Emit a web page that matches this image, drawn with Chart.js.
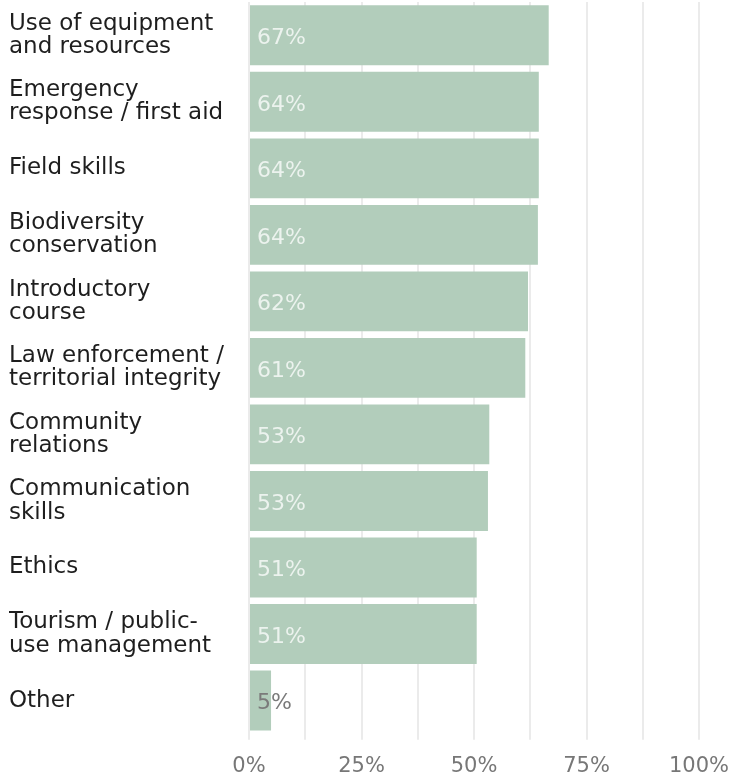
<!DOCTYPE html>
<html>
<head>
<meta charset="utf-8">
<script src="https://cdn.jsdelivr.net/npm/chart.js@4"></script>
<style>
  html, body { margin: 0; padding: 0; background: #fff; }
  #wrap { width: 732px; height: 780px; }
</style>
</head>
<body>
<div id="wrap"><canvas id="js-training-chart"></canvas></div>
<script>
// chart data
var categories = [
  ['Use of equipment', 'and resources'],
  ['Emergency', 'response / first aid'],
  'Field skills',
  ['Biodiversity', 'conservation'],
  ['Introductory', 'course'],
  ['Law enforcement /', 'territorial integrity'],
  ['Community', 'relations'],
  ['Communication', 'skills'],
  'Ethics',
  ['Tourism / public-', 'use management'],
  'Other'
];
var shares = [66.6, 64.4, 64.4, 64.2, 62.0, 61.4, 53.4, 53.1, 50.6, 50.6, 4.9];
var tickValues = [0, 25, 50, 75, 100];

var FONT = '"DejaVu Sans", "Noto Sans", sans-serif';

// value labels inside the bars
var barLabels = {
  id: 'barLabels',
  afterDatasetsDraw: function(chart) {
    var ctx = chart.ctx;
    var meta = chart.getDatasetMeta(0);
    ctx.save();
    ctx.font = '22px ' + FONT;
    ctx.textBaseline = 'middle';
    ctx.textAlign = 'left';
    meta.data.forEach(function(bar, i) {
      var txt = Math.round(shares[i]) + '%';
      var w = ctx.measureText(txt).width;
      var x = bar.base + 7;
      ctx.fillStyle = (bar.x - bar.base > w + 14) ? 'rgba(255,255,255,0.75)' : '#7a7a7a';
      ctx.fillText(txt, x, bar.y + 3);
    });
    ctx.restore();
  }
};

new Chart(document.getElementById('js-training-chart'), {
  type: 'bar',
  data: {
    labels: categories,
    datasets: [{
      data: shares,
      backgroundColor: '#b2cdbb',
      borderWidth: 0,
      barPercentage: 0.9,
      categoryPercentage: 1
    }]
  },
  options: {
    indexAxis: 'y',
    responsive: true,
    maintainAspectRatio: false,
    animation: false,
    layout: { padding: { left: 9, right: 33, top: 2, bottom: -13 } },
    plugins: {
      legend: { display: false },
      tooltip: { enabled: false }
    },
    scales: {
      x: {
        min: 0,
        max: 100,
        afterBuildTicks: function(axis) {
          var t = [];
          for (var v = 0; v <= 100; v += 12.5) t.push({ value: v });
          axis.ticks = t;
        },
        afterFit: function(axis) {
          axis.paddingLeft = 0;
          axis.paddingRight = 0;
        },
        grid: {
          color: '#ebebeb',
          lineWidth: 2,
          drawTicks: true,
          tickLength: 6
        },
        border: { display: false },
        ticks: {
          autoSkip: false,
          maxRotation: 0,
          padding: 14,
          color: '#777',
          font: { family: FONT, size: 21 },
          callback: function(val) {
            return tickValues.indexOf(val) >= 0 ? val + '%' : '';
          }
        }
      },
      y: {
        afterFit: function(axis) {
          axis.width = 240;
          axis.paddingTop = 0;
          axis.paddingBottom = 0;
        },
        grid: { display: false },
        border: { display: false },
        ticks: {
          crossAlign: 'far',
          color: '#1e1e1e',
          font: { family: FONT, size: 23, lineHeight: 1.01 }
        }
      }
    }
  },
  plugins: [barLabels]
});
</script>
</body>
</html>
